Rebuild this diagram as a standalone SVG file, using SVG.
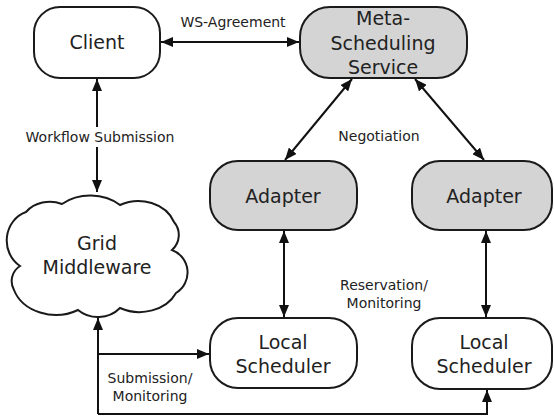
<svg xmlns="http://www.w3.org/2000/svg" width="554" height="417" viewBox="0 0 554 417">
<defs>
<marker id="ah" viewBox="0 0 12 10" refX="12" refY="5" markerWidth="12" markerHeight="10" markerUnits="userSpaceOnUse" orient="auto-start-reverse">
<path d="M0,0 L12,5 L0,10 z" fill="#111"/>
</marker>
<style>
.node{stroke:#1a1a1a;stroke-width:2;fill:#fff}
.gray{fill:#d4d4d4}
.nt{font-family:"DejaVu Sans",Verdana,sans-serif;font-size:19px;fill:#222;text-anchor:middle;dominant-baseline:central}
.lt{font-family:"DejaVu Sans",Verdana,sans-serif;font-size:14px;fill:#222;text-anchor:middle;dominant-baseline:central}
.c{stroke:#111;stroke-width:2;fill:none}
.b{marker-start:url(#ah);marker-end:url(#ah)}
.e{marker-end:url(#ah)}
</style>
</defs>
<g id="client"><rect class="node" x="34" y="7" width="126" height="71" rx="26"/><text class="nt" x="97" y="42">Client</text></g>
<g id="meta"><rect class="node gray" x="300" y="7" width="167" height="71" rx="30"/><text class="nt" x="383" y="18">Meta-</text><text class="nt" x="383" y="43">Scheduling</text><text class="nt" x="383" y="67">Service</text></g>
<g id="adapter1"><rect class="node gray" x="210" y="161" width="147" height="69" rx="28"/><text class="nt" x="283" y="196">Adapter</text></g>
<g id="adapter2"><rect class="node gray" x="412" y="161" width="140" height="69" rx="28"/><text class="nt" x="484" y="196">Adapter</text></g>
<g id="local1"><rect class="node" x="210" y="318" width="147" height="70" rx="28"/><text class="nt" x="283" y="342">Local</text><text class="nt" x="283" y="366">Scheduler</text></g>
<g id="local2"><rect class="node" x="412" y="318" width="140" height="71" rx="28"/><text class="nt" x="484" y="342">Local</text><text class="nt" x="484" y="366">Scheduler</text></g>
<g id="grid"><path class="node" d="M26,212 A30,26 0 0 1 62,204 A44,36 0 0 1 120,205 A38,32 0 0 1 174,222 A20,20 0 0 1 172,250 A24,24 0 0 1 176,293 A40,32 0 0 1 120,308 A30,28 0 0 1 78,310 A44,36 0 0 1 14,290 A18,18 0 0 1 20,266 A28,30 0 0 1 26,212 Z"/><text class="nt" x="97" y="243">Grid</text><text class="nt" x="97" y="267">Middleware</text></g>
<g id="connectors">
<line class="c b" x1="161" y1="42" x2="299" y2="42"/>
<line class="c b" x1="97" y1="79" x2="97" y2="192"/>
<line class="c b" x1="352" y1="79" x2="285" y2="160"/>
<line class="c b" x1="415" y1="79" x2="484" y2="160"/>
<line class="c b" x1="284" y1="231" x2="284" y2="317"/>
<line class="c b" x1="486" y1="231" x2="486" y2="317"/>
<path class="c e" d="M98,414 V318"/>
<path class="c e" d="M98,354 H209"/>
<path class="c e" d="M98,414 H487 V390"/>
</g>
<g id="labels">
<text class="lt" x="233" y="22">WS-Agreement</text>
<rect x="22" y="127" width="156" height="20" fill="#fff"/>
<text class="lt" x="100" y="137">Workflow Submission</text>
<text class="lt" x="379" y="136">Negotiation</text>
<text class="lt" x="384" y="285">Reservation/</text>
<text class="lt" x="384" y="303">Monitoring</text>
<text class="lt" x="150" y="378">Submission/</text>
<text class="lt" x="150" y="396">Monitoring</text>
</g>
</svg>
